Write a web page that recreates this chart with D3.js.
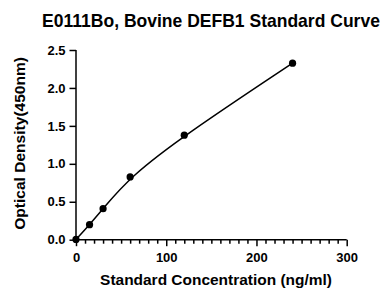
<!DOCTYPE html>
<html><head><meta charset="utf-8">
<script src="https://cdn.jsdelivr.net/npm/d3@7"></script>
<style>body{margin:0;background:#fff}svg{display:block}text{font-family:"Liberation Sans",Arial,sans-serif;font-weight:bold;fill:#000}</style>
</head><body><svg id="c" width="382" height="289"></svg>
<script>
const concentrations = [0, 15, 30, 60, 120, 240];
const odValues = [0.003, 0.198, 0.409, 0.827, 1.377, 2.327];
const xTicks = [0, 100, 200, 300];
const yTicks = [0, 0.5, 1.0, 1.5, 2.0, 2.5];
const title = "E0111Bo, Bovine DEFB1 Standard Curve";
const xLabel = "Standard Concentration (ng/ml)";
const yLabel = "Optical Density(450nm)";

const svg = d3.select("#c");
const x = d3.scaleLinear().domain([0, 300]).range([76, 346.7]);
const y = d3.scaleLinear().domain([0, 2.5]).range([239.7, 50]);
const tickFont = "13px";

// x axis
const xg = svg.append("g").attr("transform", `translate(0,${y(0)})`);
xg.call(d3.axisBottom(x).tickValues(d3.range(0, 301, 10)).tickSize(4).tickFormat(""));
xg.call(g => g.selectAll(".tick").filter(d => d % 100 === 0).select("line").attr("y2", 6.5));
xg.append("g").call(d3.axisBottom(x).tickValues(xTicks).tickSize(0).tickPadding(13).tickFormat(d3.format("d")))
  .call(g => g.select(".domain").remove());
xg.selectAll("text").style("font-size", tickFont).style("font-family", '"Liberation Sans",Arial,sans-serif').style("font-weight","bold");
xg.select(".domain").attr("d", `M${x(0)},0H${x(300)}`);

// y axis
const yg = svg.append("g").attr("transform", `translate(${x(0)},0)`);
yg.call(d3.axisLeft(y).tickValues(yTicks).tickSize(6.5).tickPadding(4).tickFormat(d3.format(".1f")));
yg.selectAll("text").style("font-size", tickFont).style("font-family", '"Liberation Sans",Arial,sans-serif').style("font-weight","bold");
yg.select(".domain").attr("d", `M0,${y(2.5)}V${y(0)}`);

svg.selectAll(".domain, .tick line").attr("stroke", "#000").attr("stroke-width", 1.5);

// curve
const pts = concentrations.map((c, i) => [c, odValues[i]]);
svg.append("path").datum(pts)
  .attr("d", d3.line().x(d => x(d[0])).y(d => y(d[1])).curve(d3.curveBasis))
  .attr("fill", "none").attr("stroke", "#000").attr("stroke-width", 1.5);

svg.selectAll("circle.pt").data(pts).join("circle").attr("class","pt")
  .attr("cx", d => x(d[0])).attr("cy", d => y(d[1])).attr("r", 3.6).attr("fill", "#000");

// titles, sized to match target lengths
function fit(sel, target) {
  const base = 12;
  sel.style("font-size", base + "px");
  const len = sel.node().getComputedTextLength();
  sel.style("font-size", (base * target / len) + "px");
  return sel;
}
fit(svg.append("text").attr("x", 211).attr("y", 27).attr("text-anchor", "middle").text(title), 338);
fit(svg.append("text").attr("x", 216).attr("y", 285).attr("text-anchor", "middle").text(xLabel), 232);
fit(svg.append("text").attr("transform", `translate(25,143.4) rotate(-90)`).attr("text-anchor", "middle").text(yLabel), 173);
</script></body></html>
